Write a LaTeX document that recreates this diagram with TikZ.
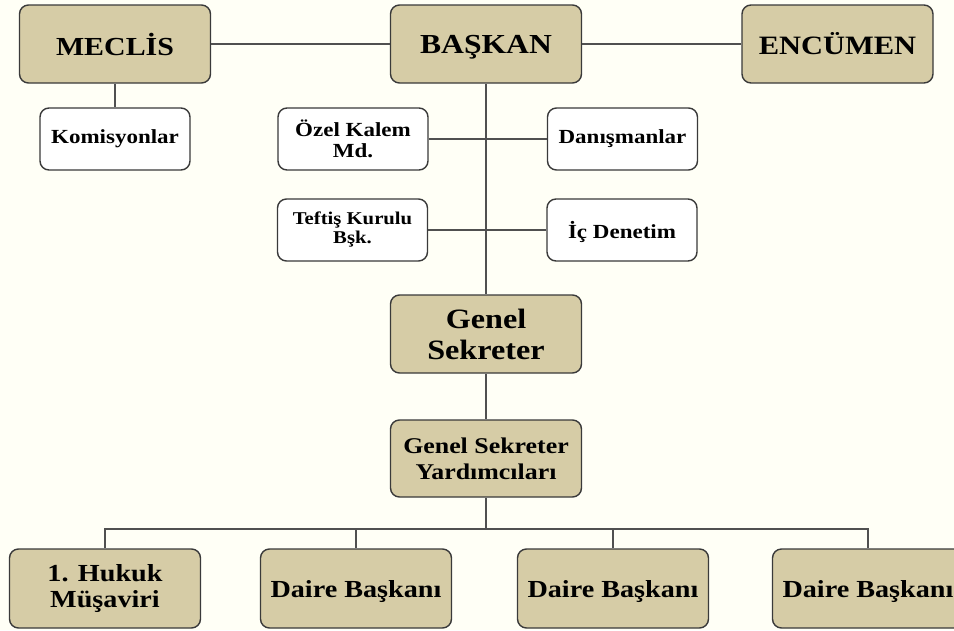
\documentclass[tikz,border=0pt]{standalone}
\usepackage{fontspec}
\setmainfont{Liberation Serif}
\newfontfamily\orgfont[FakeStretch=1.15]{Liberation Serif}
\usepackage{xcolor}
\definecolor{tanfill}{HTML}{D6CCA6}
\definecolor{paper}{HTML}{FFFFF6}
\definecolor{edgegray}{HTML}{3A3A3A}
\definecolor{linkgray}{HTML}{505050}
\newcommand{\nodepth}[1]{\raisebox{0pt}[\height][0pt]{#1}}

\begin{document}
\begin{tikzpicture}[
            x = 1pt, y = -1pt,
            unit/.style = {draw = edgegray, line width = 1.4pt, rounded corners = 9pt,
                inner sep = 0pt, align = center, font = \orgfont\bfseries},
            bigunit/.style = {unit, fill = tanfill, minimum width = 191pt, minimum height = 78pt},
            deptunit/.style = {bigunit, minimum height = 79pt,
                font = \orgfont\bfseries\fontsize{24.5}{26}\selectfont},
            smallunit/.style = {unit, fill = white, minimum width = 150pt, minimum height = 62pt,
                font = \orgfont\bfseries\fontsize{20}{20.5}\selectfont},
            link/.style = {draw = linkgray, line width = 1.1pt}]
            \fill[paper] (0,0) rectangle (954,630);
            \useasboundingbox (0,0) rectangle (954,630);
            % top row
            \node[bigunit, font = \orgfont\bfseries\fontsize{26}{26}\selectfont] (meclis) at (115,44) {MECLİS};
            \node[bigunit, font = \orgfont\bfseries\fontsize{27.5}{27.5}\selectfont] (baskan) at (486,44) {\nodepth{BAŞKAN}};
            \node[bigunit, font = \orgfont\bfseries\fontsize{26.5}{26.5}\selectfont] (encumen) at (837.5,44) {ENCÜMEN};
            % staff units
            \node[smallunit] (komisyon) at (115,139) {Komisyonlar};
            \node[smallunit] (ozelkalem) at (353,139) {Özel Kalem\\Md.};
            \node[smallunit, font = \orgfont\bfseries\fontsize{18}{19}\selectfont] (teftis) at (352.5,230) {Teftiş Kurulu\\Bşk.};
            \node[smallunit] (danisman) at (622.5,139) {Danışmanlar};
            \node[smallunit] (icdenetim) at (622,230) {\nodepth{İç Denetim}};
            % general secretary
            \node[bigunit, font = \orgfont\bfseries\fontsize{28}{31}\selectfont] (gensek) at (486,334) {Genel\\Sekreter};
            \node[bigunit, minimum height = 77pt, font = \orgfont\bfseries\fontsize{22.5}{26}\selectfont] (gsyard) at (486,458.5) {Genel Sekreter\\Yardımcıları};
            % departments
            \node[deptunit] (hukuk) at (105,588.5) {1. Hukuk\\Müşaviri};
            \node[deptunit] (daireA) at (356,588.5) {\nodepth{Daire Başkanı}};
            \node[deptunit] (daireB) at (613,588.5) {\nodepth{Daire Başkanı}};
            \node[deptunit] (daireC) at (868,588.5) {\nodepth{Daire Başkanı}};
            \coordinate (bus) at (486,529);
            % links
            \draw[link] (meclis) -- (baskan);
            \draw[link] (baskan) -- (encumen);
            \draw[link] (meclis) -- (komisyon);
            \draw[link] (ozelkalem) -- (danisman);
            \draw[link] (teftis) -- (icdenetim);
            \draw[link] (baskan) -- (gensek);
            \draw[link] (gensek) -- (gsyard);
            \draw[link] (gsyard) -- (bus);
            \draw[link] (hukuk.north) |- (bus) -| (daireC.north);
            \draw[link] (daireA.north) -- (daireA.north |- bus);
            \draw[link] (daireB.north) -- (daireB.north |- bus);
        \end{tikzpicture}
\end{document}
